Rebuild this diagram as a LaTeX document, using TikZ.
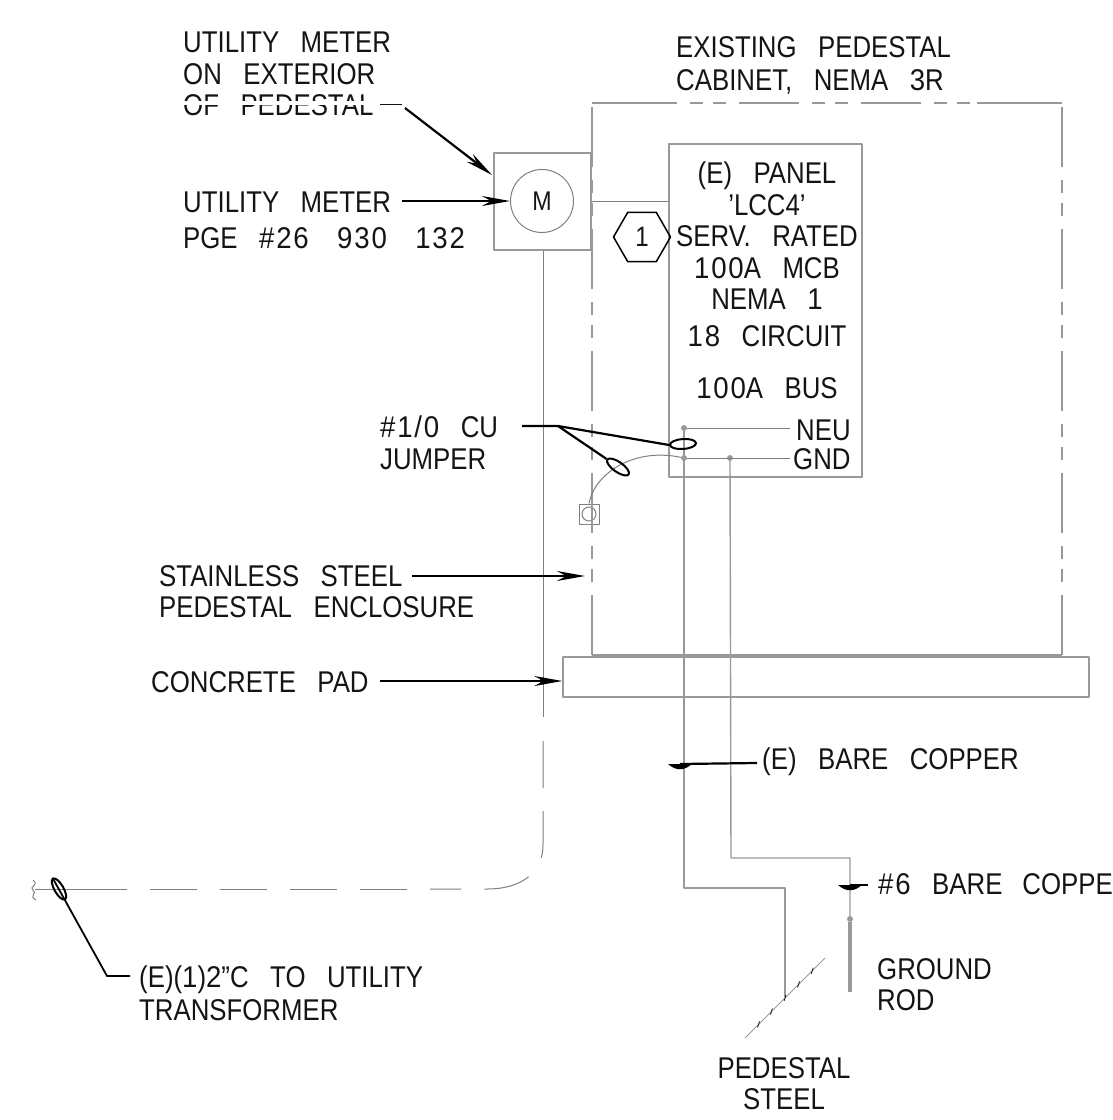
\documentclass[tikz,border=0pt]{standalone}
\usepackage{fontspec}
\usepackage{tikz}
\usetikzlibrary{arrows.meta, shapes.geometric, calc}
\setmainfont[FakeStretch=0.86, WordSpace=3.0]{Liberation Sans}
\newfontfamily\numfont[FakeStretch=0.92, LetterSpace=6, WordSpace=3.0]{Liberation Sans}
\newcommand{\num}[1]{{\numfont #1}}
\definecolor{wiregray}{gray}{0.6}
\definecolor{inkblack}{gray}{0.08}

\begin{document}
\begin{tikzpicture}[x=1pt, y=-1pt, line join=round]
    \useasboundingbox (0,0) rectangle (1112,1120);
    \tikzstyle{WireStyle} = [draw = wiregray, line width = 1.4pt]
    \tikzstyle{ThinStyle} = [draw = gray, line width = 1pt]
    \tikzstyle{BoxStyle} = [WireStyle, rectangle, inner sep = 0pt]
    \tikzstyle{DashStyle} = [WireStyle, dash pattern = on 60pt off 13pt on 13pt off 10pt on 13pt off 13pt]
    \tikzstyle{RunStyle} = [ThinStyle, dash pattern = on 47pt off 23pt]
    \tikzstyle{LeaderStyle} = [draw = black, line width = 2.2pt]
    \tikzstyle{ArrowStyle} = [LeaderStyle, -{Stealth[length = 28pt, width = 10pt]}]
    \tikzstyle{LoopStyle} = [draw = black, line width = 2pt, ellipse, inner sep = 0pt, minimum width = 26pt, minimum height = 10pt]
    \tikzstyle{DotStyle} = [fill = wiregray, circle, inner sep = 0pt, minimum size = 6pt]
    \tikzstyle{LabelStyle} = [text = inkblack, inner sep = 0pt, anchor = north west, align = left,
        font = \fontsize{30}{31.5}\selectfont]

    \node[LabelStyle] (onext) at (183,32) {UTILITY METER\\ON EXTERIOR\\OF PEDESTAL};
    \fill[white] (180,101) rectangle (380,105);
    \node[LabelStyle] (meterid) at (183,192) {UTILITY METER\\[4pt]PGE \num{\#26 930 132}};
    \node[LabelStyle] (cabinetlabel) at (676,36) {EXISTING PEDESTAL\\[2pt]CABINET, NEMA \num{3}R};
    \node[LabelStyle, anchor = north, align = center] (panellabel) at (767,162)
        {(E) PANEL\\'LCC4'\\SERV. RATED\\\num{100}A MCB\\NEMA \num{1}\\[5pt]\num{18} CIRCUIT\\[21pt]\num{100}A BUS};
    \node[LabelStyle] (neutag) at (796,420) {NEU};
    \node[LabelStyle] (gndtag) at (793,448) {GND};
    \node[LabelStyle] (jumperlabel) at (380,416) {\num{\#1/0} CU\\JUMPER};
    \node[LabelStyle] (enclosure) at (159,565) {STAINLESS STEEL\\PEDESTAL ENCLOSURE};
    \node[LabelStyle] (padlabel) at (151,671) {CONCRETE PAD};
    \node[LabelStyle] (oldcopper) at (762,748) {(E) BARE COPPER};
    \node[LabelStyle] (newcopper) at (878,873) {\num{\#6} BARE\hspace{20pt}COPPE};
    \node[LabelStyle] (rodlabel) at (877,958) {GROUND\\ROD};
    \node[LabelStyle, anchor = north, align = center] (steellabel) at (784,1057) {PEDESTAL\\STEEL};
    \node[LabelStyle] (xfmrlabel) at (139,966) {(E)(\num{1})\num{2}"C TO UTILITY\\[1pt]TRANSFORMER};

    \node[BoxStyle, minimum width = 97pt, minimum height = 97pt] (meter) at (542.5,201.5) {};
    \node[ThinStyle, circle, inner sep = 0pt, minimum size = 63pt, text = inkblack,
        font = \fontsize{27}{29}\selectfont] (dial) at (542,201) {M};
    \node[BoxStyle, minimum width = 193pt, minimum height = 333pt] (panel) at (765.5,310.5) {};
    \node[draw = black, line width = 1.5pt, regular polygon, regular polygon sides = 6, inner sep = 0pt,
        minimum size = 57pt, text = inkblack, font = \fontsize{28}{30}\selectfont] (tagone) at (642,237) {1};
    \node[BoxStyle, minimum width = 526pt, minimum height = 40pt] (pad) at (826,677) {};
    \node[ThinStyle, rectangle, inner sep = 0pt, minimum size = 20pt] (lug) at (589,514) {};
    \node[ThinStyle, circle, inner sep = 0pt, minimum size = 14pt] (lugbolt) at (589,514) {};

    \coordinate (cabBL) at (592,655);
    \coordinate (cabTL) at (592,103);
    \coordinate (cabBR) at (1062,655);
    \coordinate (cabTR) at (1062,103);
    \draw[DashStyle] (cabBL) -- (cabTL);
    \draw[DashStyle] (cabBR) -- (cabTR);
    \draw[WireStyle] (cabBL) -- (cabBR);
    \coordinate (topA) at (617,103);
    \coordinate (topB) at (977,103);
    \draw[WireStyle] (cabTL) -- (topA);
    \draw[DashStyle] (topA) -- (topB);
    \draw[WireStyle] (topB) -- (cabTR);

    \draw[ThinStyle] (meter.east) -- (meter.east -| panel.west);

    \coordinate (runA) at (543,717);
    \coordinate (runB) at (543,741);
    \coordinate (runC) at (543,845);
    \coordinate (runD) at (487,889);
    \coordinate (runE) at (430,889);
    \coordinate (runF) at (127,889);
    \coordinate (runG) at (35,889);
    \draw[ThinStyle] (meter.south -| runA) -- (runA);
    \draw[RunStyle] (runB) -- (runC) .. controls (543,872) and (522,889) .. (runD) -- (runE);
    \draw[RunStyle, dash phase = 47pt] (runE) -- (runF);
    \draw[ThinStyle] (runF) -- (runG);
    \draw[ThinStyle] (33,880) .. controls (40,885) and (28,887) .. (33,890) .. controls (38,893) and (28,896) .. (36,900);

    \coordinate (neuA) at (684,428);
    \coordinate (neuB) at (790,428);
    \coordinate (gndA) at (684,458);
    \coordinate (gndB) at (730,458);
    \coordinate (gndC) at (790,458);
    \node[DotStyle] (neudot) at (neuA) {};
    \node[DotStyle] (gnddot) at (gndA) {};
    \node[DotStyle] (rundot) at (gndB) {};
    \draw[ThinStyle] (neudot) -- (neuB);
    \draw[ThinStyle] (gnddot) -- (gndC);
    \draw[ThinStyle] (lug.north) .. controls (594,475) and (632,447) .. (gnddot);

    \coordinate (stepA) at (684,888);
    \coordinate (stepB) at (785,888);
    \coordinate (stepC) at (785,997);
    \coordinate (stepD) at (731,858);
    \coordinate (stepE) at (850,858);
    \node[DotStyle] (roddot) at (850,919) {};
    \coordinate (rodend) at (850,992);
    \draw[WireStyle] (neudot) -- (stepA) -- (stepB) -- (stepC);
    \draw[WireStyle] (rundot) -- (stepD) -- (stepE) -- (roddot);
    \draw[draw = wiregray, line width = 3.5pt] (roddot) -- (rodend);

    \coordinate (steelA) at (745,1038);
    \coordinate (steelB) at (825,958);
    \draw[draw = wiregray, line width = 0.8pt] (steelA) -- (steelB);
    \foreach \tick in {0.17, 0.33, 0.5, 0.67, 0.84}
        \draw[draw = inkblack, line width = 0.8pt] ($(steelA)!\tick!(steelB) + (-1,3)$) -- ($(steelA)!\tick!(steelB) + (1,-3)$);

    \coordinate (onextA) at (380,104);
    \coordinate (onextB) at (402,104);
    \coordinate (onextC) at (405,108);
    \coordinate (onextD) at (492,175);
    \draw[ThinStyle, draw = inkblack] (onextA) -- (onextB);
    \draw[ArrowStyle] (onextC) -- (onextD);

    \coordinate (meteridA) at (402,201);
    \draw[ArrowStyle] (meteridA) -- (dial.west);

    \coordinate (encA) at (412,576);
    \coordinate (encB) at (585,576);
    \draw[ArrowStyle] (encA) -- (encB);

    \coordinate (padA) at (380,681);
    \draw[ArrowStyle] (padA) -- (pad.west |- padA);
    \fill[black] (543,681) circle (3.5pt);

    \node[LoopStyle, rotate = 4] (loopneu) at (683,444) {};
    \node[LoopStyle, rotate = -35] (loopgnd) at (618,467) {};
    \coordinate (jumperA) at (522,426);
    \coordinate (jumperB) at (558,426);
    \draw[LeaderStyle] (jumperA) -- (jumperB) -- (loopneu.west);
    \draw[LeaderStyle] (jumperB) -- (loopgnd.west);

    \coordinate (tapA) at (680,764);
    \coordinate (tapB) at (757,763);
    \coordinate (tapC) at (850,885);
    \coordinate (tapD) at (868,885);
    \draw[LeaderStyle] (tapA) -- (tapB);
    \draw[LeaderStyle] (tapC) -- (tapD);
    \foreach \tap in {tapA, tapC}
        \fill[black] ([xshift = -12pt] \tap) .. controls ([xshift = -4pt, yshift = -7pt] \tap) and ([xshift = 4pt, yshift = -7pt] \tap) .. ([xshift = 12pt] \tap) -- cycle;

    \node[LoopStyle, rotate = -60, minimum width = 24pt, minimum height = 9pt] (loopxfmr) at (59,889) {};
    \coordinate (xfmrA) at (107,976);
    \coordinate (xfmrB) at (130,976);
    \draw[LeaderStyle, line width = 1.8pt] (loopxfmr.west) -- (xfmrA) -- (xfmrB);
\end{tikzpicture}
\end{document}
